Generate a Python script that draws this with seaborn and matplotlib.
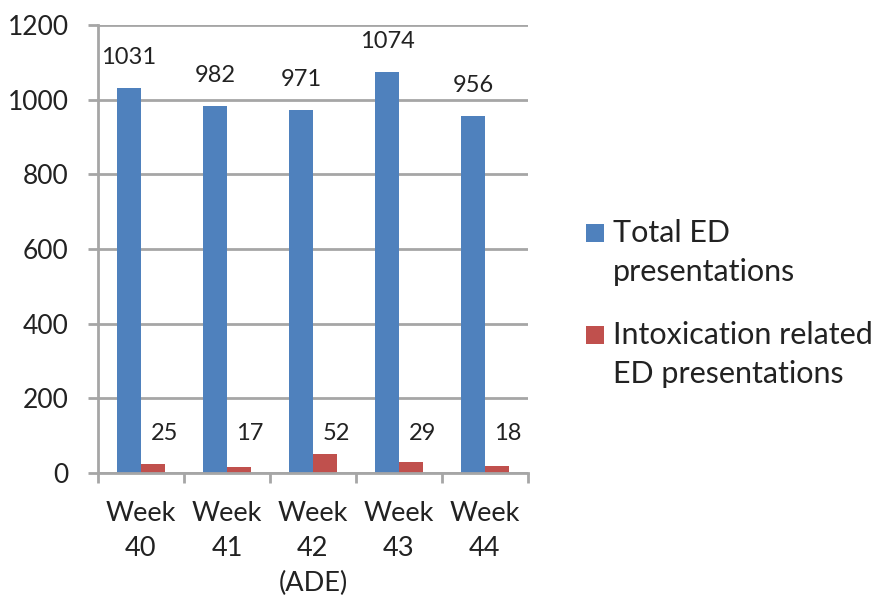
import pandas as pd
import matplotlib.pyplot as plt
import seaborn as sns
from matplotlib.patches import Rectangle

# === DATA ===
weeks = ['Week\n40', 'Week\n41', 'Week\n42\n(ADE)', 'Week\n43', 'Week\n44']
total_ed = [1031, 982, 971, 1074, 956]
intox_ed = [25, 17, 52, 29, 18]
series_names = ['Total ED\npresentations', 'Intoxication related\nED presentations']
colors = ['#4F81BD', '#C0504D']

df = pd.DataFrame({
    'week': weeks * 2,
    'value': total_ed + intox_ed,
    'series': [series_names[0]] * len(weeks) + [series_names[1]] * len(weeks),
})

# === PLOT ===
sns.set_style('white')
plt.rcParams['font.family'] = ['Lato', 'DejaVu Sans']
txt_color = '#222222'

fig = plt.figure(figsize=(8.77, 5.96), dpi=100)
ax = fig.add_axes([0.1117, 0.2064, 0.4903, 0.7517])

sns.barplot(data=df, x='week', y='value', hue='series', palette=colors,
            width=0.56, gap=0, saturation=1, linewidth=0, ax=ax, legend=False)

ax.set_ylim(0, 1200)
ax.set_xlim(-0.5, len(weeks) - 0.5)
ax.set_yticks(range(0, 1201, 200))
ax.yaxis.grid(True, color='#A6A6A6', linewidth=2)
ax.set_axisbelow(True)
ax.set_xlabel('')
ax.set_ylabel('')

for side in ['top', 'right']:
    ax.spines[side].set_visible(False)
for side in ['left', 'bottom']:
    ax.spines[side].set_color('#A6A6A6')
    ax.spines[side].set_linewidth(2)

# y ticks continue the grid left of the spine, x ticks sit between categories
ax.tick_params(axis='y', length=7, width=2, color='#A6A6A6', labelsize=19,
               labelcolor=txt_color, pad=14, left=True)
ax.set_xticks([i - 0.5 for i in range(len(weeks) + 1)], minor=True)
ax.tick_params(axis='x', which='minor', length=7, width=2, color='#A6A6A6', bottom=True)
ax.tick_params(axis='x', which='major', length=0, labelsize=19.5,
               labelcolor=txt_color, pad=20)
for lbl in ax.get_xticklabels():
    lbl.set_linespacing(1.5)

# data labels
for i, v in enumerate(total_ed):
    ax.annotate(str(v), (i - 0.14, v), xytext=(0, 22), textcoords='offset points',
                ha='center', va='center', fontsize=17, color=txt_color)
for i, v in enumerate(intox_ed):
    ax.text(i + 0.14 + 0.13, 105, str(v), ha='center', va='center',
            fontsize=17, color=txt_color)

# legend drawn by hand so the swatch lines up with the first text line
W, H = 877, 596
legend_rows = [(233, 39), (335, 39)]
for (y_px, step), name, col in zip(legend_rows, series_names, colors):
    fig.patches.append(Rectangle((586 / W, 1 - (y_px + 9) / H), 18 / W, 18 / H,
                                 transform=fig.transFigure, facecolor=col,
                                 edgecolor='none'))
    for k, line in enumerate(name.split('\n')):
        fig.text(613 / W, 1 - (y_px + k * step) / H, line, ha='left', va='center',
                 fontsize=22, color=txt_color)

plt.savefig('out.png', dpi=100)
